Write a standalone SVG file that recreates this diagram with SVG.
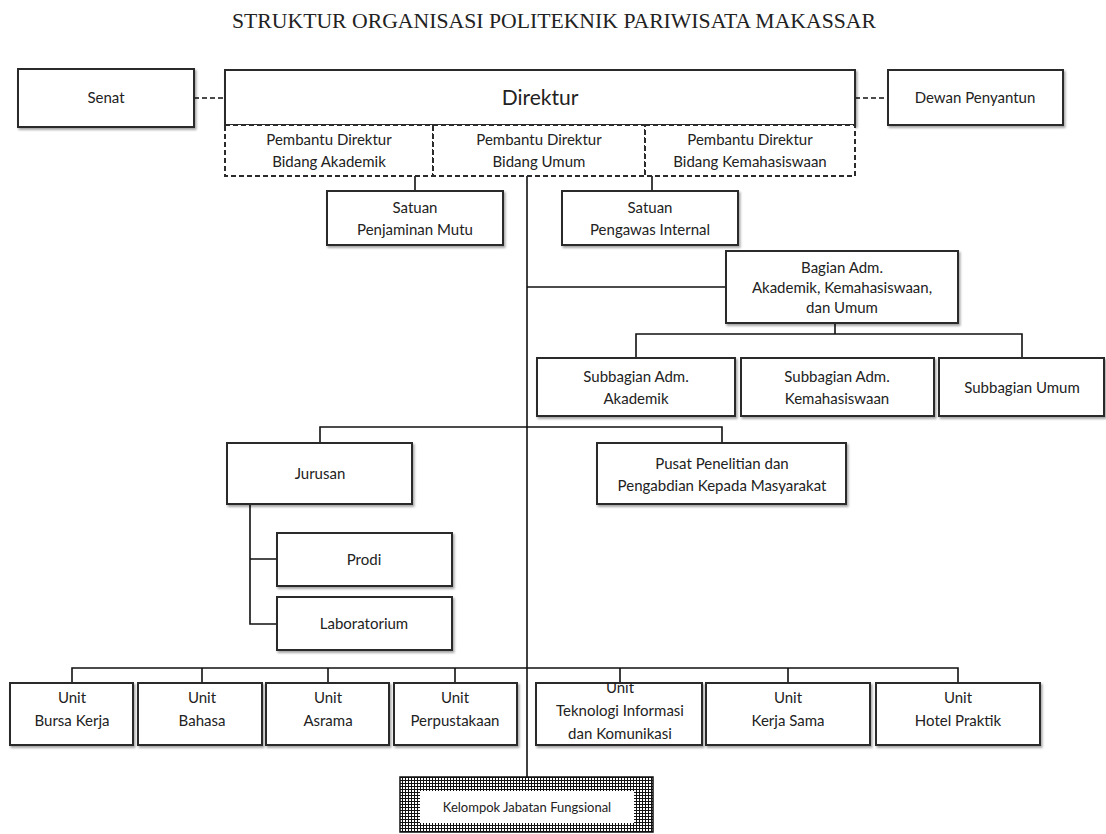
<svg xmlns="http://www.w3.org/2000/svg" width="1106" height="834" viewBox="0 0 1106 834">
<defs>
<filter id="sh" x="-5%" y="-5%" width="115%" height="125%">
<feDropShadow dx="1.5" dy="2" stdDeviation="1.2" flood-color="#000" flood-opacity="0.35"/>
</filter>
<pattern id="hatch" width="3" height="3" patternUnits="userSpaceOnUse">
<rect width="3" height="3" fill="#fff"/>
<path d="M0 0.5H3M0.5 0V3" stroke="#111" stroke-width="1"/>
</pattern>
<style>
.box{fill:#fff;stroke:#2b2b2b;stroke-width:2;filter:url(#sh)}
.dbox{fill:#fff;stroke:#2b2b2b;stroke-width:2;stroke-dasharray:5 3}
.t{font-family:Lato,"Open Sans","Liberation Sans",sans-serif;font-size:15px;fill:#222;text-anchor:middle}
.big{font-size:21px}
.small{font-size:13px}
.ln{fill:none;stroke:#111;stroke-width:1.6}
.dl{fill:none;stroke:#111;stroke-width:1.6;stroke-dasharray:5 3}
.title{font-family:"Liberation Serif","DejaVu Serif",serif;font-size:22px;fill:#222;text-anchor:middle}
</style>
</defs>
<rect width="1106" height="834" fill="#fff"/>
<text class="title" x="554" y="28" textLength="644" lengthAdjust="spacingAndGlyphs">STRUKTUR ORGANISASI POLITEKNIK PARIWISATA MAKASSAR</text>

<g id="connectors">
<path class="dl" d="M194 98H225"/>
<path class="dl" d="M855 98H888"/>
<path class="ln" d="M527 176V777"/>
<path class="ln" d="M415 191V174H652V191"/>
<path class="ln" d="M527 287H726"/>
<path class="ln" d="M835 323V334"/>
<path class="ln" d="M636 358V334H1022V358"/>
<path class="ln" d="M320 443V427H722V443"/>
<path class="ln" d="M250 504V624H277M250 559H277"/>
<path class="ln" d="M72 683V668H958V683M202 668V683M328 668V683M455 668V683M620 668V683M788 668V683"/>
</g>

<g id="senat"><rect class="box" x="18" y="69" width="176" height="58"/><text class="t" x="106" y="103">Senat</text></g>
<g id="direktur"><rect class="box" x="225" y="70" width="630" height="55"/><text class="t big" x="540" y="105">Direktur</text></g>
<g id="dewan"><rect class="box" x="888" y="70" width="175" height="55"/><text class="t" x="975" y="103">Dewan Penyantun</text></g>

<g id="pd-akademik"><rect class="dbox" x="225" y="125" width="208" height="51"/><text class="t" x="329" y="145">Pembantu Direktur</text><text class="t" x="329" y="167">Bidang Akademik</text></g>
<g id="pd-umum"><rect class="dbox" x="433" y="125" width="212" height="51"/><text class="t" x="539" y="145">Pembantu Direktur</text><text class="t" x="539" y="167">Bidang Umum</text></g>
<g id="pd-kemahasiswaan"><rect class="dbox" x="645" y="125" width="210" height="51"/><text class="t" x="750" y="145">Pembantu Direktur</text><text class="t" x="750" y="167">Bidang Kemahasiswaan</text></g>

<g id="spm"><rect class="box" x="327" y="191" width="176" height="54"/><text class="t" x="415" y="213">Satuan</text><text class="t" x="415" y="235">Penjaminan Mutu</text></g>
<g id="spi"><rect class="box" x="562" y="191" width="176" height="54"/><text class="t" x="650" y="213">Satuan</text><text class="t" x="650" y="235">Pengawas Internal</text></g>

<g id="bagian"><rect class="box" x="726" y="251" width="232" height="72"/><text class="t" x="842" y="273">Bagian Adm.</text><text class="t" x="842" y="293">Akademik,  Kemahasiswaan,</text><text class="t" x="842" y="313">dan Umum</text></g>

<g id="sub-akademik"><rect class="box" x="537" y="358" width="198" height="58"/><text class="t" x="636" y="382">Subbagian Adm.</text><text class="t" x="636" y="404">Akademik</text></g>
<g id="sub-kemahasiswaan"><rect class="box" x="741" y="358" width="193" height="58"/><text class="t" x="837" y="382">Subbagian Adm.</text><text class="t" x="837" y="404">Kemahasiswaan</text></g>
<g id="sub-umum"><rect class="box" x="939" y="358" width="165" height="58"/><text class="t" x="1022" y="393">Subbagian Umum</text></g>

<g id="jurusan"><rect class="box" x="227" y="443" width="185" height="61"/><text class="t" x="320" y="479">Jurusan</text></g>
<g id="pusat"><rect class="box" x="597" y="443" width="249" height="61"/><text class="t" x="722" y="469">Pusat Penelitian dan</text><text class="t" x="722" y="491">Pengabdian Kepada Masyarakat</text></g>
<g id="prodi"><rect class="box" x="277" y="533" width="175" height="53"/><text class="t" x="364" y="565">Prodi</text></g>
<g id="lab"><rect class="box" x="277" y="597" width="175" height="53"/><text class="t" x="364" y="629">Laboratorium</text></g>

<g id="u-bursa"><rect class="box" x="10" y="683" width="123" height="62"/><text class="t" x="72" y="703">Unit</text><text class="t" x="72" y="726">Bursa Kerja</text></g>
<g id="u-bahasa"><rect class="box" x="138" y="683" width="124" height="62"/><text class="t" x="202" y="703">Unit</text><text class="t" x="202" y="726">Bahasa</text></g>
<g id="u-asrama"><rect class="box" x="266" y="683" width="123" height="62"/><text class="t" x="328" y="703">Unit</text><text class="t" x="328" y="726">Asrama</text></g>
<g id="u-perpustakaan"><rect class="box" x="394" y="683" width="123" height="62"/><text class="t" x="455" y="703">Unit</text><text class="t" x="455" y="726">Perpustakaan</text></g>
<g id="u-tik"><rect class="box" x="536" y="683" width="166" height="62"/><text class="t" x="620" y="693">Unit</text><text class="t" x="620" y="716">Teknologi Informasi</text><text class="t" x="620" y="739">dan Komunikasi</text></g>
<g id="u-kerjasama"><rect class="box" x="706" y="683" width="164" height="62"/><text class="t" x="788" y="703">Unit</text><text class="t" x="788" y="726">Kerja Sama</text></g>
<g id="u-hotel"><rect class="box" x="876" y="683" width="164" height="62"/><text class="t" x="958" y="703">Unit</text><text class="t" x="958" y="726">Hotel Praktik</text></g>

<g id="kelompok"><rect x="400" y="777" width="253" height="55" fill="url(#hatch)" stroke="#111" stroke-width="1.5"/><rect x="420" y="791" width="214" height="32" fill="#fff"/><text class="t small" x="527" y="812">Kelompok Jabatan Fungsional</text></g>
</svg>
